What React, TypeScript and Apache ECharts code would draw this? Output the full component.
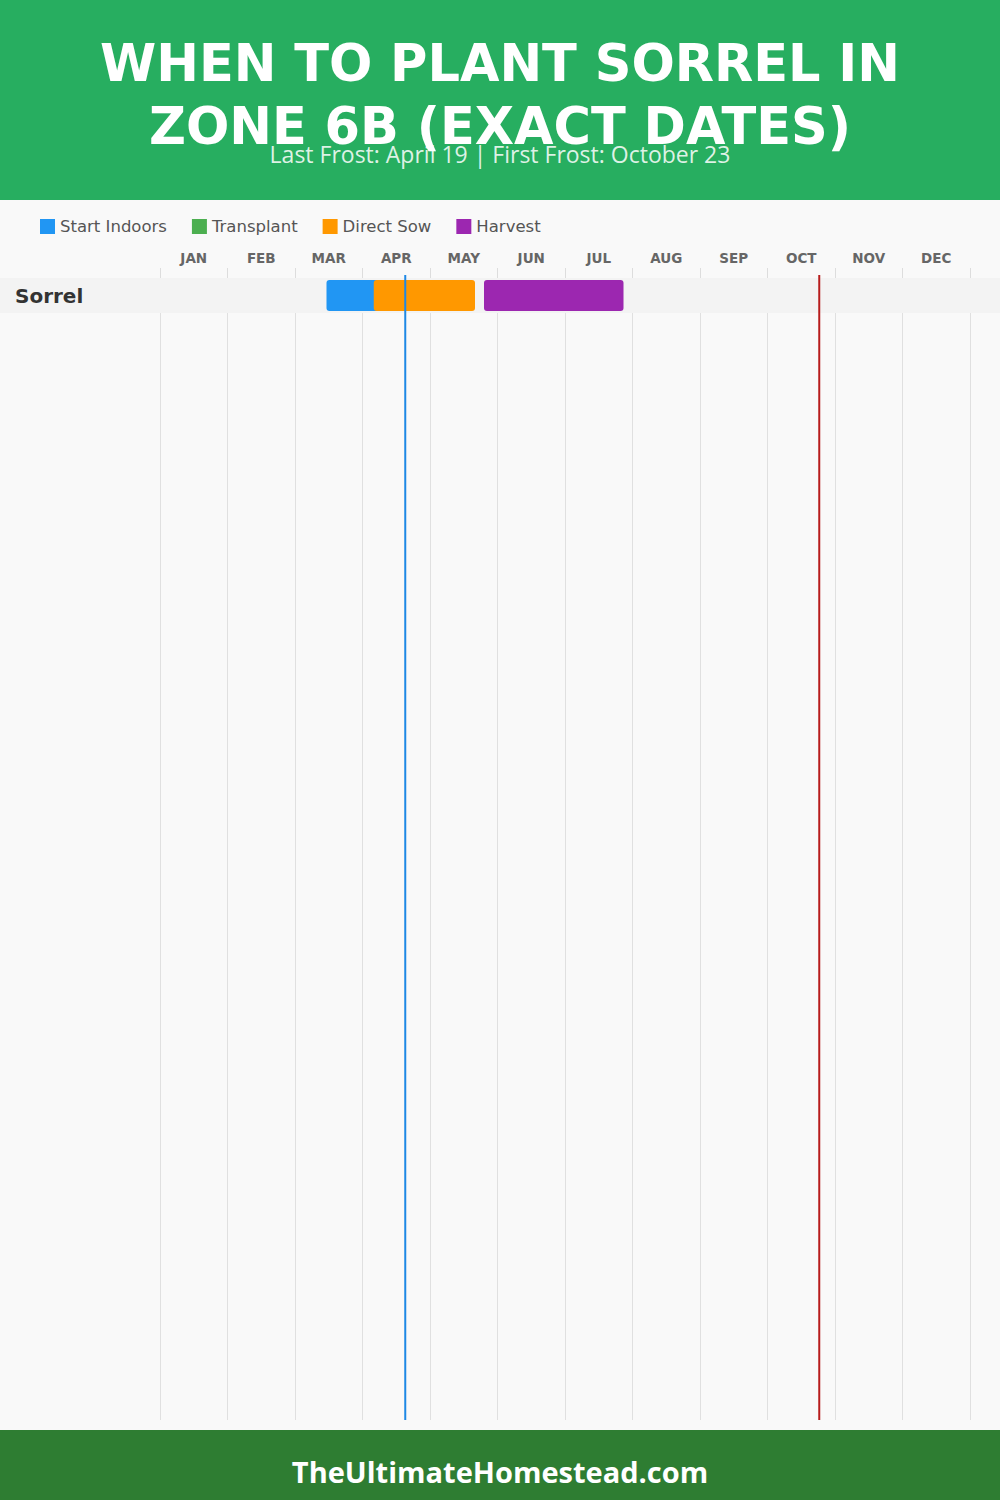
import React, { useEffect, useRef } from "react";
import * as echarts from "echarts";

const MONTHS = ["JAN", "FEB", "MAR", "APR", "MAY", "JUN", "JUL", "AUG", "SEP", "OCT", "NOV", "DEC"];
const MONTH_KEYS = ["Jan", "Feb", "Mar", "Apr", "May", "Jun", "Jul", "Aug", "Sep", "Oct", "Nov", "Dec"];
const PLANTS = ["Sorrel"];

// [plantIndex, from, to]
const START_INDOORS: [number, string, string][] = [[0, "Mar 14", "Apr 8"]];
const TRANSPLANT: [number, string, string][] = [];
const DIRECT_SOW: [number, string, string][] = [[0, "Apr 5", "May 20"]];
const HARVEST: [number, string, string][] = [[0, "May 24", "Jul 26"]];

const LAST_FROST = "Apr 19";
const FIRST_FROST = "Oct 23";

const TITLE_LINES = ["WHEN TO PLANT SORREL IN", "ZONE 6B (EXACT DATES)"];
const SUBTITLE = "Last Frost: April 19 | First Frost: October 23";
const FOOTER = "TheUltimateHomestead.com";

const PHASES = [
  { name: "Start Indoors", color: "#2196F3", data: START_INDOORS },
  { name: "Transplant", color: "#4CAF50", data: TRANSPLANT },
  { name: "Direct Sow", color: "#FF9800", data: DIRECT_SOW },
  { name: "Harvest", color: "#9C27B0", data: HARVEST },
];

const ROW_H = 35;
const GRID_TOP = 278;
const GRID_BOTTOM = 80;
const CHART_H = 1500;

function toMonth(s: string): number {
  const [m, d] = s.split(" ");
  return MONTH_KEYS.indexOf(m) + Number(d) / 30;
}

export default function App() {
  const ref = useRef<HTMLDivElement>(null);
  useEffect(() => {
    if (!ref.current) return;
    const chart = echarts.init(ref.current, null, { renderer: "svg" });
    const rowsMax = (CHART_H - GRID_TOP - GRID_BOTTOM) / ROW_H;
    const font = "'Open Sans', sans-serif";
    const wide = "'DejaVu Sans', sans-serif";

    const bandSeries = {
      type: "custom",
      silent: true,
      xAxisIndex: 0,
      yAxisIndex: 0,
      data: PLANTS.map((p, i) => [i, p]),
      renderItem: (params: any, api: any) => {
        const i = api.value(0);
        const top = api.coord([0, i])[1];
        const bottom = api.coord([0, i + 1])[1];
        return {
          type: "group",
          children: [
            {
              type: "rect",
              shape: { x: 0, y: top, width: api.getWidth(), height: bottom - top },
              style: { fill: "#f3f3f3" },
            },
            {
              type: "text",
              x: 15,
              y: (top + bottom) / 2,
              style: {
                text: PLANTS[i],
                fill: "#333",
                fontSize: 20,
                fontWeight: "bold",
                fontFamily: wide,
                align: "left",
                verticalAlign: "middle",
              },
            },
          ],
        };
      },
    };

    const phaseSeries = PHASES.map((ph) => ({
      type: "custom",
      name: ph.name,
      xAxisIndex: 0,
      yAxisIndex: 0,
      itemStyle: { color: ph.color },
      data: ph.data.map(([row, a, b]) => [toMonth(a), toMonth(b), row]),
      renderItem: (params: any, api: any) => {
        const row = api.value(2);
        const s = api.coord([api.value(0), row]);
        const e = api.coord([api.value(1), row]);
        const top = s[1];
        const bottom = api.coord([0, row + 1])[1];
        return {
          type: "rect",
          shape: { x: s[0], y: top + 2, width: e[0] - s[0], height: bottom - top - 4, r: 3 },
          style: { fill: ph.color },
        };
      },
    }));

    const frostSeries = {
      type: "custom",
      silent: true,
      xAxisIndex: 0,
      yAxisIndex: 0,
      data: [
        [toMonth(LAST_FROST), 0],
        [toMonth(FIRST_FROST), 1],
      ],
      renderItem: (params: any, api: any) => {
        const x = api.coord([api.value(0), 0])[0];
        const cs = params.coordSys;
        return {
          type: "line",
          shape: { x1: x, y1: cs.y - 3, x2: x, y2: cs.y + cs.height },
          style: { stroke: api.value(1) === 0 ? "#1E88E5" : "#B71C1C", lineWidth: 2 },
        };
      },
    };

    chart.setOption({
      animation: false,
      backgroundColor: "#f9f9f9",
      grid: { left: 160, right: 30, top: GRID_TOP, bottom: GRID_BOTTOM },
      legend: {
        data: PHASES.map((p) => p.name),
        left: 40,
        top: 218,
        padding: 0,
        icon: "rect",
        itemWidth: 15,
        itemHeight: 15,
        itemGap: 25,
        selectedMode: false,
        textStyle: { color: "#555", fontSize: 16.5, fontFamily: wide },
      },
      xAxis: [
        {
          type: "value",
          position: "top",
          min: 0,
          max: 12,
          interval: 1,
          axisLine: { show: false },
          axisTick: { show: true, length: 10, lineStyle: { color: "#dddddd" } },
          axisLabel: { show: false },
          splitLine: { show: true, lineStyle: { color: "#e0e0e0", width: 1 } },
        },
        {
          type: "category",
          position: "top",
          data: MONTHS,
          boundaryGap: true,
          axisLine: { show: false },
          axisTick: { show: false },
          splitLine: { show: false },
          axisLabel: {
            color: "#666",
            fontSize: 13.5,
            fontWeight: "bold",
            fontFamily: wide,
            margin: 13,
          },
        },
      ],
      yAxis: {
        type: "value",
        inverse: true,
        min: 0,
        max: rowsMax,
        show: false,
        splitLine: { show: false },
      },
      graphic: [
        { type: "rect", shape: { x: 0, y: 0, width: 1000, height: 200 }, style: { fill: "#27ae60" }, silent: true },
        {
          type: "text",
          x: 500,
          y: 63,
          style: {
            text: TITLE_LINES[0],
            fill: "#fff",
            fontSize: 51,
            fontWeight: 900,
            fontFamily: wide,
            align: "center",
            verticalAlign: "middle",
          },
        },
        {
          type: "text",
          x: 500,
          y: 126,
          style: {
            text: TITLE_LINES[1],
            fill: "#fff",
            fontSize: 51,
            fontWeight: 900,
            fontFamily: wide,
            align: "center",
            verticalAlign: "middle",
          },
        },
        {
          type: "text",
          x: 500,
          y: 154,
          style: {
            text: SUBTITLE,
            fill: "rgba(255,255,255,0.85)",
            fontSize: 23,
            fontFamily: font,
            align: "center",
            verticalAlign: "middle",
          },
        },
        { type: "rect", shape: { x: 0, y: 1430, width: 1000, height: 70 }, style: { fill: "#2e7d32" }, silent: true },
        {
          type: "text",
          x: 500,
          y: 1471,
          style: {
            text: FOOTER,
            fill: "#fff",
            fontSize: 29,
            fontWeight: "bold",
            fontFamily: font,
            align: "center",
            verticalAlign: "middle",
          },
        },
      ],
      series: [bandSeries, ...phaseSeries, frostSeries],
    });
    return () => chart.dispose();
  }, []);
  return <div ref={ref} style={{ position: "absolute", left: 0, top: 0, width: 1000, height: 1500 }} />;
}
